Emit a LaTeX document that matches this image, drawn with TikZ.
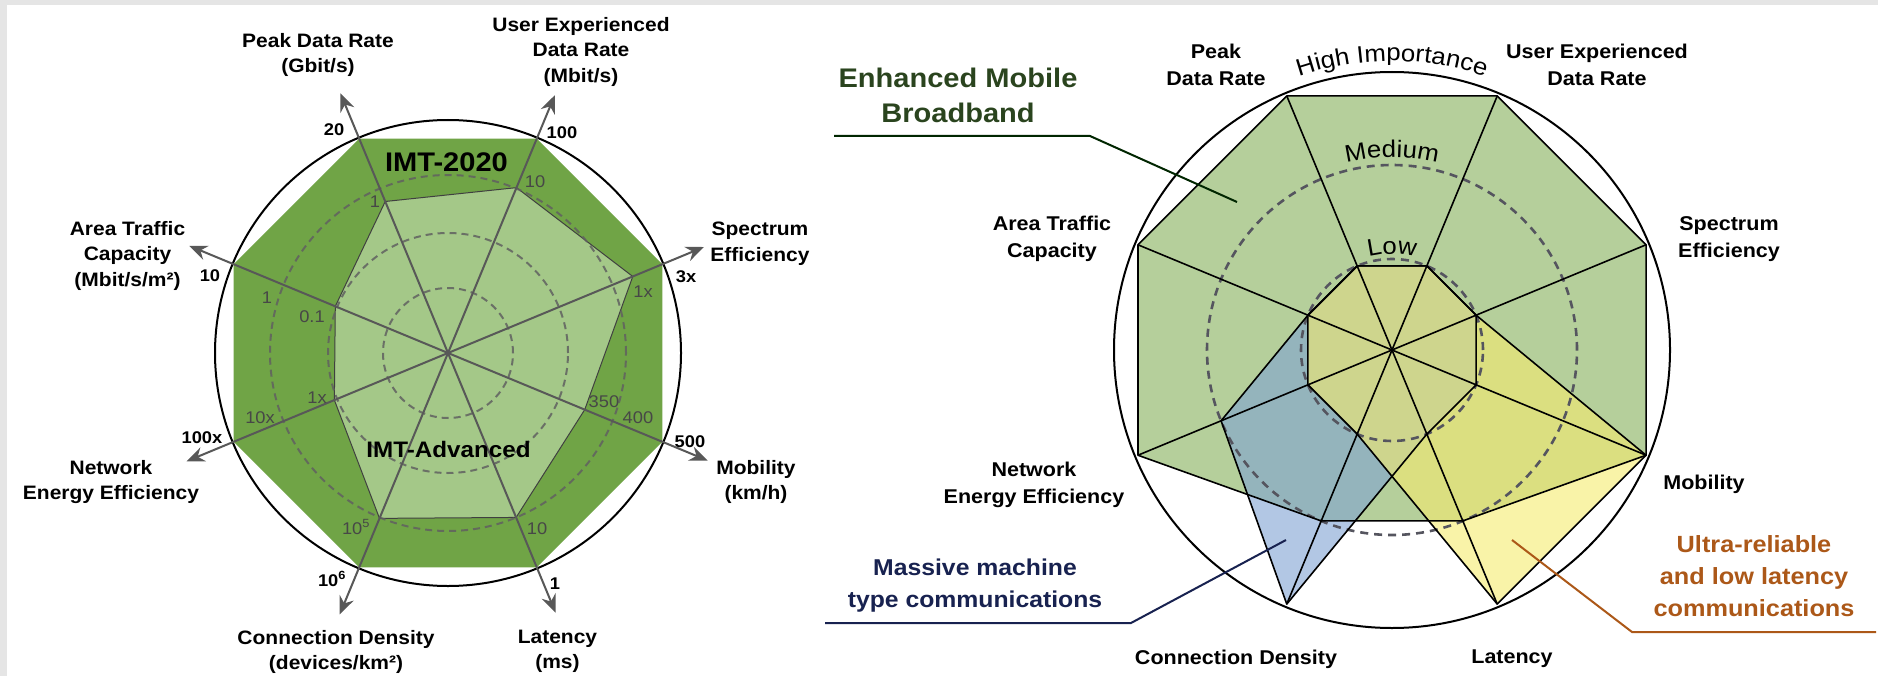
\documentclass[tikz,border=0pt]{standalone}
\usepackage{fontspec}
\setmainfont{Liberation Sans}[FakeStretch=1.08]
\usetikzlibrary{arrows.meta,decorations.text}
\definecolor{bggray}{RGB}{229,229,229}
\definecolor{darkgreen}{RGB}{112,164,70}
\definecolor{lightgreen}{RGB}{164,200,136}
\definecolor{axisgray}{RGB}{88,88,88}
\definecolor{embbfill}{RGB}{181,207,155}
\definecolor{mmtcfill}{RGB}{127,163,210}
\definecolor{urllcfill}{RGB}{245,235,110}
\definecolor{embbtext}{RGB}{42,68,30}
\definecolor{mmtctext}{RGB}{24,34,80}
\definecolor{urllctext}{RGB}{172,88,24}
\definecolor{dashgray}{RGB}{85,85,95}
\begin{document}
\begin{tikzpicture}[x=1bp,y=-1bp,
  lab/.style={font=\fontsize{19.5}{25.5}\selectfont\bfseries, align=center, inner sep=0pt, anchor=north},
  rlab/.style={font=\fontsize{20}{27}\selectfont\bfseries, align=center, inner sep=0pt, anchor=north},
  num/.style={font=\fontsize{17}{17}\selectfont\bfseries, inner sep=0pt},
  inum/.style={font=\fontsize{17}{17}\selectfont, text=black!72, inner sep=0pt},
  axisarrow/.style={draw=axisgray, line width=2bp, -{Stealth[length=18bp,width=15bp,inset=6bp]}},
  outerring/.style={draw=black, line width=2bp},
  ldash/.style={draw=black!62, draw opacity=0.85, line width=2bp, dash pattern=on 7bp off 5bp},
  rdash/.style={draw=dashgray, line width=2.6bp, dash pattern=on 8bp off 6bp},
  polyedge/.style={draw=black, line width=1.6bp, line join=round},
  spoke/.style={draw=black, line width=1.6bp},
  arclabel/.style={decorate, decoration={text along path, text align=center, text={|\fontsize{24}{24}\selectfont|#1}}},
  leader/.style={line width=2bp}
]
\useasboundingbox (0,0) rectangle (1878,676);
\fill[bggray] (0,0) rectangle (1878,676);
\fill[white] (7,5) rectangle (1878,676);

% ---------------- Left diagram ----------------
\begin{scope}[shift={(448,353)}, y=1bp]
  \coordinate (Lc) at (0,0);
  \fill[darkgreen] (22.5:232) -- (67.5:232) -- (112.5:232) -- (157.5:232) -- (202.5:232) -- (247.5:232) -- (292.5:232) -- (337.5:232) -- cycle;
  \filldraw[fill=lightgreen, draw=black!75, line width=1bp, line join=round] (22.5:200) -- (67.5:179) -- (112.5:164) -- (157.5:122) -- (202.5:123) -- (247.5:179) -- (292.5:178) -- (337.5:148) -- cycle;
  \foreach \r in {65,120,178} \draw[ldash] (0,0) circle[radius=\r];
  \draw[outerring] (0,0) circle[radius=233];
  \coordinate (Lpeak) at (112.5:281);
  \coordinate (Luser) at (67.5:279);
  \coordinate (Lspec) at (22.5:277);
  \coordinate (Lmob) at (-22.5:281);
  \coordinate (Llat) at (-67.5:281);
  \coordinate (Lconn) at (-112.5:283);
  \coordinate (Lnet) at (-157.5:283);
  \coordinate (Larea) at (157.5:280);
  \foreach \t in {Lpeak,Luser,Lspec,Lmob,Llat,Lconn,Lnet,Larea}
    \draw[axisarrow] (Lc) -- (\t);
\end{scope}

\node[font=\fontsize{27}{27}\selectfont\bfseries, inner sep=0pt] (imt2020) at (446.5,162) {IMT-2020};
\node[font=\fontsize{22.5}{22.5}\selectfont\bfseries, inner sep=0pt] (imtadv) at (448.5,449) {IMT-Advanced};

\node[lab] (lpeak) at (318,33) {Peak Data Rate\\(Gbit/s)};
\node[lab] (luser) at (581,17) {User Experienced\\Data Rate\\(Mbit/s)};
\node[lab] (lspec) at (760,222) {Spectrum\\Efficiency};
\node[lab] (larea) at (127.5,221) {Area Traffic\\Capacity\\(Mbit/s/m²)};
\node[lab] (lnet) at (111,460) {Network\\Energy Efficiency};
\node[lab] (lconn) at (336,630) {Connection Density\\(devices/km²)};
\node[lab] (llat) at (557.5,630) {Latency\\(ms)};
\node[lab] (lmob) at (756,460) {Mobility\\(km/h)};

\node[num] (n20) at (334,130) {20};
\node[inum] (n1p) at (375,202) {1};
\node[num] (n100) at (562,133) {100};
\node[inum] (n10u) at (535,182) {10};
\node[num] (n3x) at (686,277) {3x};
\node[inum] (n1xs) at (643,292) {1x};
\node[num] (n10a) at (210,276) {10};
\node[inum] (n1a) at (267,298) {1};
\node[inum] (n01a) at (312,317) {0.1};
\node[inum] (n1xn) at (317,398) {1x};
\node[inum] (n10xn) at (260,418) {10x};
\node[num] (n100xn) at (202,438) {100x};
\node[inum] (n105) at (356,527) {10\textsuperscript{5}};
\node[num] (n106) at (332,579) {10\textsuperscript{6}};
\node[inum] (n350) at (604,402) {350};
\node[inum] (n400) at (638,418) {400};
\node[num] (n500) at (690,442) {500};
\node[inum] (n10l) at (537,529) {10};
\node[num] (n1l) at (555,584) {1};

% ---------------- Right diagram ----------------
\begin{scope}[shift={(1392,350)}, y=1bp]
  \coordinate (Rc) at (0,0);
  \fill[embbfill] (112.5:275) -- (67.5:275) -- (22.5:275) -- (-22.5:275) -- (-67.5:185) -- (-112.5:185) -- (-157.5:275) -- (157.5:275) -- cycle;
  \fill[mmtcfill, fill opacity=0.6] (112.5:91) -- (67.5:91) -- (22.5:91) -- (-22.5:91) -- (-67.5:91) -- (-112.5:275) -- (-157.5:185) -- (157.5:91) -- cycle;
  \fill[urllcfill, fill opacity=0.6] (112.5:91) -- (67.5:91) -- (22.5:91) -- (-22.5:275) -- (-67.5:275) -- (-112.5:91) -- (-157.5:91) -- (157.5:91) -- cycle;
  \draw[rdash] (0,0) circle[radius=91];
  \draw[rdash] (0,0) circle[radius=185];
  \draw[polyedge] (112.5:275) -- (67.5:275) -- (22.5:275) -- (-22.5:275) -- (-67.5:185) -- (-112.5:185) -- (-157.5:275) -- (157.5:275) -- cycle;
  \draw[polyedge] (112.5:91) -- (67.5:91) -- (22.5:91) -- (-22.5:91) -- (-67.5:91) -- (-112.5:275) -- (-157.5:185) -- (157.5:91) -- cycle;
  \draw[polyedge] (112.5:91) -- (67.5:91) -- (22.5:91) -- (-22.5:275) -- (-67.5:275) -- (-112.5:91) -- (-157.5:91) -- (157.5:91) -- cycle;
  \coordinate (Rpeak) at (112.5:275);
  \coordinate (Ruser) at (67.5:275);
  \coordinate (Rspec) at (22.5:275);
  \coordinate (Rmob) at (-22.5:275);
  \coordinate (Rlat) at (-67.5:275);
  \coordinate (Rconn) at (-112.5:275);
  \coordinate (Rnet) at (-157.5:275);
  \coordinate (Rarea) at (157.5:275);
  \foreach \t in {Rpeak,Ruser,Rspec,Rmob,Rlat,Rconn,Rnet,Rarea}
    \draw[spoke] (Rc) -- (\t);
  \draw[outerring] (0,0) circle[radius=278];
  \path[arclabel={High Importance}] (115:289) arc[start angle=115, end angle=65, radius=289];
  \path[arclabel={Medium}] (118:193) arc[start angle=118, end angle=62, radius=193];
  \path[arclabel={Low}] (125:96) arc[start angle=125, end angle=55, radius=96];
\end{scope}

\node[rlab] (rpeak) at (1216,43.5) {Peak\\Data Rate};
\node[rlab] (ruser) at (1597,43.5) {User Experienced\\Data Rate};
\node[rlab] (rspec) at (1729,216) {Spectrum\\Efficiency};
\node[rlab] (rarea) at (1052,216) {Area Traffic\\Capacity};
\node[rlab] (rnet) at (1034,462) {Network\\Energy Efficiency};
\node[rlab] (rmob) at (1704,475) {Mobility};
\node[rlab] (rconn) at (1236,650) {Connection Density};
\node[rlab] (rlat) at (1512,650) {Latency};

\node[font=\fontsize{27}{35}\selectfont\bfseries, text=embbtext, align=center, inner sep=0pt, anchor=north] (embb) at (958,68) {Enhanced Mobile\\Broadband};
\node[font=\fontsize{23}{32}\selectfont\bfseries, text=mmtctext, align=center, inner sep=0pt, anchor=north] (mmtc) at (975,559) {Massive machine\\type communications};
\node[font=\fontsize{23.5}{32.5}\selectfont\bfseries, text=urllctext, align=center, inner sep=0pt, anchor=north] (urllc) at (1754,535) {Ultra-reliable\\and low latency\\communications};

\coordinate (ea) at (834,136);
\coordinate (eb) at (1090,136);
\coordinate (ec) at (1237,202);
\draw[leader, draw=black!85!green] (ea) -- (eb) -- (ec);
\coordinate (ma) at (825,623);
\coordinate (mb) at (1131,623);
\coordinate (mc) at (1286,540);
\draw[leader, draw=mmtctext] (ma) -- (mb) -- (mc);
\coordinate (ua) at (1512,540);
\coordinate (ub) at (1632,632);
\coordinate (uc) at (1876,632);
\draw[leader, draw=urllctext] (ua) -- (ub) -- (uc);
\end{tikzpicture}
\end{document}
